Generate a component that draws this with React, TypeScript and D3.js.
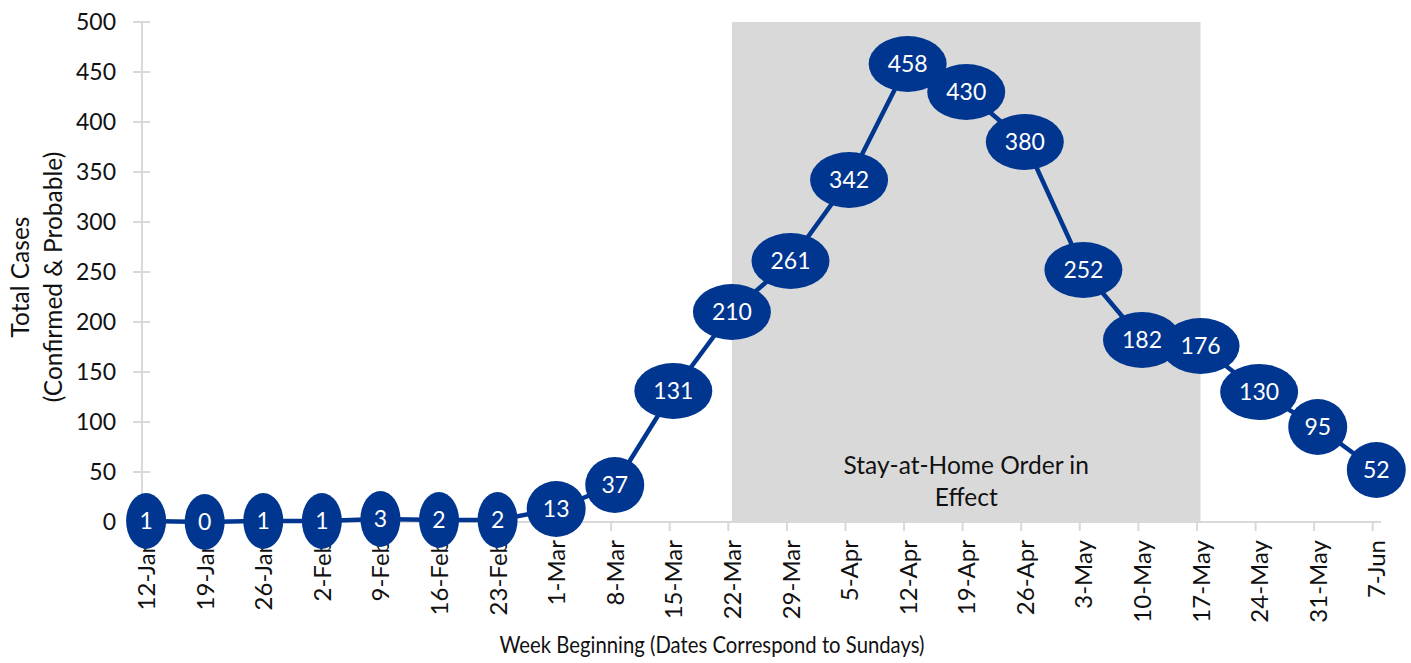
import { useRef, useEffect } from 'react'
import * as d3 from 'd3'

const WEEKS = [
  '12-Jan', '19-Jan', '26-Jan', '2-Feb', '9-Feb', '16-Feb', '23-Feb', '1-Mar', '8-Mar',
  '15-Mar', '22-Mar', '29-Mar', '5-Apr', '12-Apr', '19-Apr', '26-Apr', '3-May', '10-May',
  '17-May', '24-May', '31-May', '7-Jun',
]
const CASES = [1, 0, 1, 1, 3, 2, 2, 13, 37, 131, 210, 261, 342, 458, 430, 380, 252, 182, 176, 130, 95, 52]
const Y_TICKS = [0, 50, 100, 150, 200, 250, 300, 350, 400, 450, 500]
const ORDER_START = '22-Mar'
const ORDER_END = '17-May'
const ORDER_LABEL = ['Stay-at-Home Order in', 'Effect']

const BLUE = '#00368f'
const AXIS = '#d9d9d9'
const FONT = 'Lato, "Open Sans", sans-serif'

export default function App() {
  const svgRef = useRef<SVGSVGElement>(null)

  useEffect(() => {
    if (!svgRef.current) return
    const W = 1411
    const H = 663
    const svg = d3.select(svgRef.current)
    svg.selectAll('*').remove()

    const x = d3.scalePoint<string>().domain(WEEKS).range([142.5, 1372.7])
    const y = d3.scaleLinear().domain([0, 500]).range([522, 22])
    const off = 3.6 // markers sit a bit right of the tick marks

    // shaded stay-at-home period
    svg.append('rect')
      .attr('x', x(ORDER_START)! + off)
      .attr('y', y(500))
      .attr('width', x(ORDER_END)! - x(ORDER_START)!)
      .attr('height', y(0) - y(500))
      .attr('fill', '#d9d9d9')

    const midX = (x(ORDER_START)! + x(ORDER_END)!) / 2 + off
    ORDER_LABEL.forEach((t, i) => {
      svg.append('text')
        .attr('x', midX).attr('y', 474 + i * 32)
        .attr('text-anchor', 'middle')
        .attr('font-family', FONT).attr('font-size', 24.5)
        .attr('fill', '#111')
        .text(t)
    })

    // y axis
    svg.append('line')
      .attr('x1', 142).attr('x2', 142)
      .attr('y1', y(500)).attr('y2', y(0))
      .attr('stroke', AXIS).attr('stroke-width', 2)
    Y_TICKS.forEach(v => {
      svg.append('line')
        .attr('x1', 133).attr('x2', 150)
        .attr('y1', y(v)).attr('y2', y(v))
        .attr('stroke', AXIS).attr('stroke-width', 2)
      svg.append('text')
        .attr('x', 116).attr('y', y(v))
        .attr('dy', '0.36em')
        .attr('text-anchor', 'end')
        .attr('font-family', FONT).attr('font-size', 23)
        .attr('fill', '#111')
        .text(v)
    })

    // x axis
    svg.append('line')
      .attr('x1', 141).attr('x2', 1381)
      .attr('y1', y(0)).attr('y2', y(0))
      .attr('stroke', AXIS).attr('stroke-width', 2)
    WEEKS.forEach(w => {
      const px = x(w)!
      svg.append('line')
        .attr('x1', px).attr('x2', px)
        .attr('y1', y(0)).attr('y2', y(0) + 9)
        .attr('stroke', AXIS).attr('stroke-width', 2)
      svg.append('text')
        .attr('transform', `translate(${px + 4},540) rotate(-90)`)
        .attr('dy', '0.36em')
        .attr('text-anchor', 'end')
        .attr('font-family', FONT).attr('font-size', 24)
        .attr('fill', '#111')
        .text(w)
    })

    // axis titles
    svg.append('text')
      .attr('x', 712).attr('y', 653)
      .attr('text-anchor', 'middle')
      .attr('font-family', FONT).attr('font-size', 23.5)
      .attr('textLength', 425).attr('lengthAdjust', 'spacingAndGlyphs')
      .attr('fill', '#111')
      .text('Week Beginning (Dates Correspond to Sundays)')

    const yt = svg.append('text')
      .attr('transform', 'translate(0,277) rotate(-90)')
      .attr('text-anchor', 'middle')
      .attr('font-family', FONT).attr('font-size', 24.5)
      .attr('fill', '#111')
    yt.append('tspan').attr('x', 0).attr('y', 29).text('Total Cases')
    yt.append('tspan').attr('x', 0).attr('y', 62).text('(Confirmed & Probable)')

    // line + ellipse markers
    const line = d3.line<number>()
      .x((_, i) => x(WEEKS[i])! + off)
      .y(d => y(d))
    svg.append('path')
      .datum(CASES)
      .attr('d', line)
      .attr('fill', 'none')
      .attr('stroke', BLUE)
      .attr('stroke-width', 4.5)
      .attr('stroke-linejoin', 'round')

    const pts = svg.append('g').selectAll('g')
      .data(CASES)
      .enter()
      .append('g')
      .attr('transform', (d, i) => `translate(${x(WEEKS[i])! + off},${y(d)})`)
    pts.append('ellipse')
      .attr('rx', d => (21 + 19 * String(d).length) / 2)
      .attr('ry', 28)
      .attr('fill', BLUE)
    pts.append('text')
      .attr('dy', '0.36em')
      .attr('text-anchor', 'middle')
      .attr('font-family', FONT).attr('font-size', 23)
      .attr('fill', '#fff')
      .text(d => d)

    svg.attr('width', W).attr('height', H)
  }, [])

  return (
    <svg
      ref={svgRef}
      width={1411}
      height={663}
      style={{ position: 'absolute', left: 0, top: 0, background: '#fff' }}
    />
  )
}
